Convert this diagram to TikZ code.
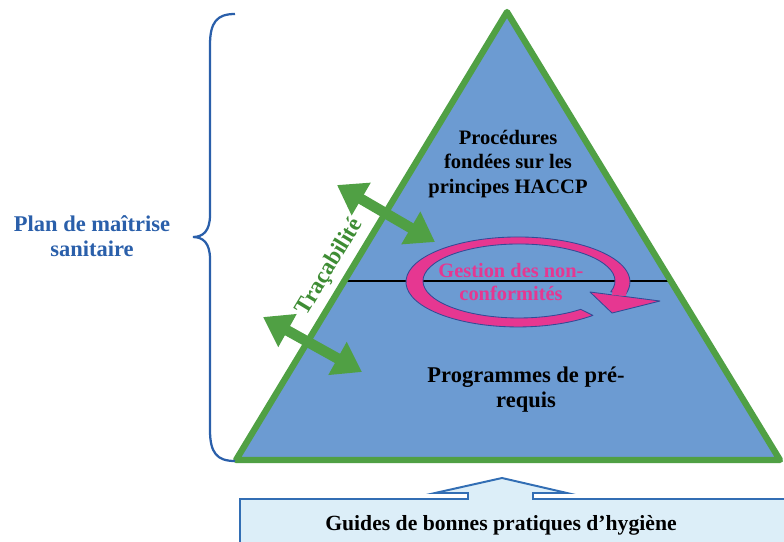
\documentclass[tikz,border=0pt]{standalone}
\usepackage{fontspec}
\setmainfont{Liberation Serif}
\usetikzlibrary{arrows.meta, positioning}

\definecolor{pyrfill}{RGB}{108,155,210}
\definecolor{pyrgreen}{RGB}{80,160,68}
\definecolor{tracegreen}{RGB}{62,140,52}
\definecolor{planblue}{RGB}{42,95,170}
\definecolor{ncpink}{RGB}{230,55,145}
\definecolor{ncedge}{RGB}{50,75,150}
\definecolor{guidefill}{RGB}{220,238,248}
\definecolor{guideedge}{RGB}{50,110,180}

\begin{document}
\begin{tikzpicture}[x=0.025cm, y=-0.025cm,
    every node/.style={align=center, inner sep=0pt},
    pyr edge/.style={draw=pyrgreen, line width=4.5pt, line join=round},
    trace arrow/.style={draw=pyrgreen, line width=7.5pt,
        {Triangle[length=0.7cm,width=0.9cm]}-{Triangle[length=0.7cm,width=0.9cm]}},
    nc ring/.style={fill=ncpink, draw=ncedge, line width=0.6pt, line join=round},
    guide box/.style={fill=guidefill, draw=guideedge, line width=1.4pt},
    brace line/.style={draw=planblue, line width=1.6pt}]
  \useasboundingbox (0,0) rectangle (784,541);
  \clip (0,0) rectangle (784,541);

  % Pyramid
  \coordinate (apex) at (507,12);
  \coordinate (bl) at (236,460);
  \coordinate (br) at (780,460);
  \fill[pyrfill] (apex) -- (bl) -- (br) -- cycle;
  \begin{scope}
    \clip (apex) -- (bl) -- (br) -- cycle;
    \draw[line width=2pt] (300,281) -- (720,281);
  \end{scope}

  % Non-conformity loop
  \path[nc ring] (592.9,315.4) arc[start angle=48, end angle=375, x radius=112, y radius=45]
    -- (610.8,291.8) arc[start angle=377, end angle=50, x radius=96, y radius=37] -- cycle;
  \path[nc ring] (590,292) -- (660,301) -- (612,313) -- cycle;
  \fill[ncpink] (613,289) -- (627,290) -- (626,296) -- (612,295) -- cycle;

  \draw[pyr edge] (apex) -- (bl) -- (br) -- cycle;

  % Traceability arrows
  \coordinate (tu1) at (337,185);
  \coordinate (tu2) at (435,242);
  \coordinate (tl1) at (263,317);
  \coordinate (tl2) at (362,372);
  \draw[trace arrow] (tu1) -- (tu2);
  \draw[trace arrow] (tl1) -- (tl2);
  \node (trace) [rotate=58.8, text=tracegreen, font=\bfseries\fontsize{16.5}{18}\selectfont] at (330,267) {Traçabilité};

  % Texts inside the pyramid
  \node (haccp) [font=\bfseries\fontsize{14.6}{17.7}\selectfont] at (508,164) {Procédures\\fondées sur les\\principes HACCP};
  \node (nonconf) [text=ncpink, font=\bfseries\fontsize{14.5}{16.3}\selectfont] at (511,282) {Gestion des non-\\conformités};
  \node (prereq) [font=\bfseries\fontsize{16}{17.7}\selectfont] at (526,390) {Programmes de pré-\\requis};

  % Brace
  \draw[brace line] (235,14) .. controls (217,14) and (210,22) .. (210,45) -- (210,215)
    .. controls (210,231) and (203,237) .. (193,237) .. controls (203,237) and (210,243) .. (210,259)
    -- (210,430) .. controls (210,453) and (217,461) .. (235,461);
  \node (pms) [text=planblue, font=\bfseries\fontsize{16}{17.7}\selectfont] at (92,236) {Plan de maîtrise\\sanitaire};

  % Good practice guides
  \draw[guide box] (240,499) -- (468,499) -- (468,493) -- (435,493) -- (502,478) -- (567,493)
    -- (533,493) -- (533,499) -- (800,499) -- (800,560) -- (240,560) -- cycle;
  \node (guides) [font=\bfseries\fontsize{15.4}{18}\selectfont] at (501,525) {Guides de bonnes pratiques d’hygiène};
\end{tikzpicture}
\end{document}
